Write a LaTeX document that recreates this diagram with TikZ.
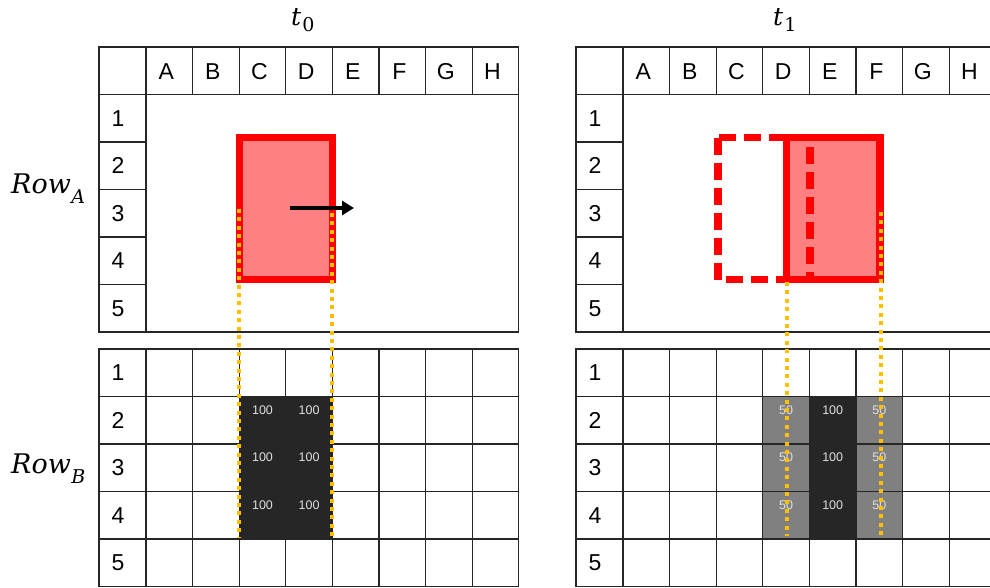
\documentclass[tikz,border=0pt]{standalone}
\usepackage{fontspec}
\setmainfont{Liberation Sans}
\newfontfamily\mfont{DejaVu Serif}
\usetikzlibrary{arrows.meta}
\definecolor{redfill}{HTML}{FF8080}
\definecolor{dotc}{HTML}{FFC000}
\definecolor{darkc}{HTML}{262626}
\definecolor{midc}{HTML}{808080}
\newcommand\ttsym[1]{{\mfont\fontsize{25}{30}\selectfont\itshape t}\kern1pt\raisebox{-6.5pt}{\mfont\fontsize{19}{22}\selectfont #1}}
\newcommand\rowsym[1]{{\mfont\fontsize{27}{32}\selectfont\itshape Row}\kern0.5pt\raisebox{-10.5pt}{\mfont\fontsize{19}{22}\selectfont\itshape #1}}
\begin{document}
\begin{tikzpicture}[x=1pt,y=-1pt,
  gridline/.style={line width=1.1pt, draw=black!85},
  hdr/.style={font=\fontsize{23}{27}\selectfont, inner sep=0},
  val/.style={font=\fontsize{12.5}{14}\selectfont, text=white!88!black, inner sep=0},
  mlab/.style={inner sep=0, anchor=base west},
  redbox/.style={draw=red, line width=7.5pt, fill=redfill},
  ghost/.style={draw=red, line width=7.5pt, dash pattern=on 17pt off 8pt},
  guide/.style={draw=dotc, line width=4pt, dash pattern=on 4pt off 4.4pt},
  darkcell/.style={fill=darkc},
  graycell/.style={fill=midc}]
\useasboundingbox (0,0) rectangle (990,587);
\clip (0,0) rectangle (990,587);
% cell fills
\foreach \r in {0,1,2}{
  \foreach \k in {2,3}{
    \fill[darkcell] ({99+47+\k*46.6},{396.5+\r*47.5}) rectangle +(46.6,47.5);
    \node[val] (vL\r\k) at ({99+47+\k*46.6+23.3},{396.5+\r*47.5+13.5}) {100};
  }
  \fill[graycell] ({576+47+3*46.6},{396.5+\r*47.5}) rectangle +(46.6,47.5);
  \fill[darkcell] ({576+47+4*46.6},{396.5+\r*47.5}) rectangle +(46.6,47.5);
  \fill[graycell] ({576+47+5*46.6},{396.5+\r*47.5}) rectangle +(46.6,47.5);
  \node[val] (vR\r3) at ({576+47+3*46.6+23.3},{396.5+\r*47.5+13.5}) {50};
  \node[val] (vR\r4) at ({576+47+4*46.6+23.3},{396.5+\r*47.5+13.5}) {100};
  \node[val] (vR\r5) at ({576+47+5*46.6+23.3},{396.5+\r*47.5+13.5}) {50};
}
% grids
\foreach \px/\tag in {99/L,576/R}{
  \begin{scope}[shift={(\px,0)}]
    \draw[gridline] (0,47) rectangle (419.8,332);
    \draw[gridline] (0,94.5) -- (419.8,94.5);
    \draw[gridline] (47,47) -- (47,332);
    \foreach \k in {1,...,7} \draw[gridline] ({47+\k*46.6},47) -- ({47+\k*46.6},94.5);
    \foreach \r in {142,189.5,237,284.5} \draw[gridline] (0,\r) -- (47,\r);
    \draw[gridline] (0,349) rectangle (419.8,586.5);
    \foreach \k in {0,...,7} \draw[gridline] ({47+\k*46.6},349) -- ({47+\k*46.6},586.5);
    \foreach \r in {396.5,444,491.5,539} \draw[gridline] (0,\r) -- (419.8,\r);
    \foreach \c [count=\k from 0] in {A,B,C,D,E,F,G,H}
      \node[hdr] (col\tag\c) at ({47+\k*46.6+20.3},72) {\c};
    \foreach \n in {1,...,5}{
      \node[hdr] (ra\tag\n) at (19,{94.5+(\n-0.5)*47.5}) {\n};
      \node[hdr] (rb\tag\n) at (19,{349+(\n-0.5)*47.5}) {\n};
    }
  \end{scope}
}
% titles
\node[mlab] (t0) at (291,25) {\ttsym{0}};
\node[mlab] (t1) at (773,25) {\ttsym{1}};
\node[mlab] (rowA) at (11,193) {\rowsym{A}};
\node[mlab] (rowB) at (11,473) {\rowsym{B}};
% shapes
\draw[redbox] (239.5,137.5) rectangle (332.5,279.5);
\coordinate (a1) at (290,208);
\coordinate (a2) at (354,208);
\draw[line width=3.5pt, -{Triangle[length=12pt,width=14pt]}] (a1) -- (a2);
\draw[redbox] (786.5,137.5) rectangle (880,279.5);
\draw[ghost] (718,137.5) rectangle (810,279.5);
% guides
\coordinate (g1a) at (239.3,209); \coordinate (g1b) at (239.3,537);
\coordinate (g2a) at (332.3,213); \coordinate (g2b) at (332.3,537);
\coordinate (g3a) at (786.5,282); \coordinate (g3b) at (786.5,536);
\coordinate (g4a) at (880.5,212); \coordinate (g4b) at (880.5,536);
\draw[guide] (g1a) -- (g1b);
\draw[guide] (g2a) -- (g2b);
\draw[guide] (g3a) -- (g3b);
\draw[guide] (g4a) -- (g4b);
\end{tikzpicture}
\end{document}
